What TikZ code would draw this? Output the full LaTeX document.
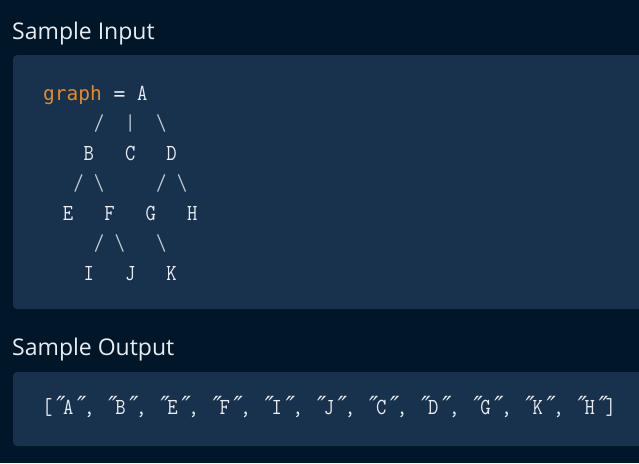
\documentclass[tikz,border=0pt]{standalone}
\usepackage{fontspec}
\setmainfont{Open Sans}
\newfontfamily\codefont[FakeStretch=0.874]{Latin Modern Mono}
\newfontfamily\kwfont{DejaVu Sans Mono}
\usetikzlibrary{positioning}
\definecolor{bg}{RGB}{1,22,40}
\definecolor{panel}{RGB}{24,49,76}
\definecolor{ink}{RGB}{232,237,242}
\definecolor{kw}{RGB}{227,140,42}
\definecolor{slash}{RGB}{190,200,210}
\newcommand\dq{\makebox[10.55pt][c]{\fontsize{25}{25}\kwfont\itshape ″}}

\begin{document}
\begin{tikzpicture}[x=1pt,y=-1pt,
  head/.style={anchor=base west,inner sep=0pt,text=ink,font=\fontsize{23}{23}\selectfont},
  code/.style={anchor=base west,inner sep=0pt,text=ink,font=\fontsize{23}{23}\codefont},
  edge/.style={code,text=slash},
  box/.style={fill=panel,rounded corners=4pt}]

\clip (0,0) rectangle (639,463);
\fill[bg] (0,0) rectangle (639,463);

\node[head] (inhead) at (12,39.5) {Sample Input};
\fill[box] (13,55) rectangle (660,309);

\node[code] (row1) at (43,100) {{\fontsize{19.5}{19.5}\kwfont\textcolor{kw}{graph}~=~}A};
\node[edge] (row2) at (42,130) {~~~~~/~~|~~\textbackslash};
\node[code] (row3) at (42,160) {~~~~B~~~C~~~D};
\node[edge] (row4) at (42,190) {~~~/~\textbackslash~~~~~/~\textbackslash};
\node[code] (row5) at (42,220) {~~E~~~F~~~G~~~H};
\node[edge] (row6) at (42,250) {~~~~~/~\textbackslash~~~\textbackslash};
\node[code] (row7) at (42,280) {~~~~I~~~J~~~K};

\node[head] (outhead) at (12,355) {Sample Output};
\fill[box] (13,372) rectangle (660,446);

\node[code] (outrow) at (42,414) {[\dq A\dq,~\dq B\dq,~\dq E\dq,~\dq F\dq,~\dq I\dq,~\dq J\dq,~\dq C\dq,~\dq D\dq,~\dq G\dq,~\dq K\dq,~\dq H\dq]};
%,~\dq X\dq
\end{tikzpicture}
\end{document}
